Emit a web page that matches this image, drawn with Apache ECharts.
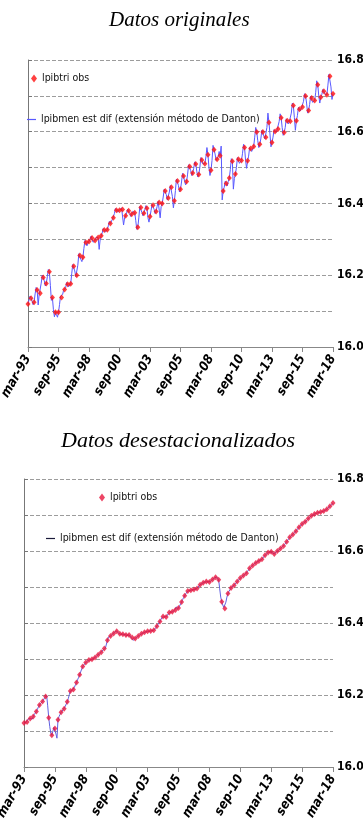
<!DOCTYPE html>
<html>
<head>
<meta charset="utf-8">
<script src="https://cdn.jsdelivr.net/npm/echarts@6/dist/echarts.min.js"></script>
<style>
  html, body { margin: 0; padding: 0; background: #fff; }
  #top { width: 363px; height: 414px; }
  #bottom { width: 363px; height: 415px; }
</style>
</head>
<body>
<div id="top"></div>
<div id="bottom"></div>
<script>
// etiquetas del eje x (cada 30 meses, desde mar-93)
var xTickLabels = ['mar-93','sep-95','mar-98','sep-00','mar-03','sep-05','mar-08','sep-10','mar-13','sep-15','mar-18'];
var obsName = 'lpibtri obs';
var lineName = 'lpibmen est dif (extensión método de Danton)';

// datos originales, trimestral (mar, jun, sep, dic)
var origQ = [
  16.120, 16.136, 16.125, 16.159,
  16.150, 16.194, 16.177, 16.210,
  16.138, 16.097, 16.097, 16.138,
  16.160, 16.175, 16.176, 16.225,
  16.200, 16.255, 16.250, 16.291,
  16.294, 16.304, 16.297, 16.305,
  16.310, 16.326, 16.327, 16.344,
  16.360, 16.381, 16.381, 16.383,
  16.366, 16.380, 16.370, 16.374,
  16.334, 16.389, 16.373, 16.387,
  16.364, 16.395, 16.378, 16.403,
  16.400, 16.435, 16.415, 16.445,
  16.408, 16.463, 16.440, 16.477,
  16.461, 16.503, 16.485, 16.510,
  16.481, 16.521, 16.511, 16.536,
  16.493, 16.550, 16.523, 16.533,
  16.435, 16.456, 16.471, 16.518,
  16.482, 16.523, 16.520, 16.556,
  16.519, 16.553, 16.559, 16.599,
  16.565, 16.599, 16.585, 16.626,
  16.570, 16.601, 16.608, 16.639,
  16.598, 16.631, 16.629, 16.673,
  16.631, 16.663, 16.669, 16.700,
  16.659, 16.694, 16.687, 16.731,
  16.696, 16.713, 16.703, 16.755,
  16.706
];

// datos originales, mensual (mar-93 ... mar-18)
var origM = [
  16.120,16.131,16.142, 16.136,16.128,16.118, 16.125,16.148,16.166, 16.159,16.117,16.146,
  16.150,16.178,16.200, 16.194,16.185,16.170, 16.177,16.196,16.216, 16.210,16.172,16.130,
  16.138,16.104,16.084, 16.097,16.090,16.083, 16.097,16.118,16.142, 16.138,16.146,16.158,
  16.160,16.165,16.180, 16.175,16.168,16.172, 16.176,16.204,16.230, 16.225,16.212,16.196,
  16.200,16.228,16.260, 16.255,16.244,16.238, 16.250,16.275,16.297, 16.291,16.282,16.290,
  16.294,16.300,16.309, 16.304,16.292,16.290, 16.297,16.306,16.311, 16.305,16.272,16.300,
  16.310,16.318,16.330, 16.326,16.320,16.318, 16.327,16.338,16.350, 16.344,16.342,16.356,
  16.360,16.372,16.386, 16.381,16.376,16.372, 16.381,16.386,16.388, 16.383,16.340,16.360,
  16.366,16.374,16.384, 16.380,16.372,16.364, 16.370,16.378,16.382, 16.374,16.352,16.328,
  16.334,16.360,16.392, 16.389,16.375,16.366, 16.373,16.384,16.394, 16.387,16.360,16.348,
  16.364,16.380,16.398, 16.395,16.384,16.372, 16.378,16.392,16.406, 16.403,16.360,16.392,
  16.400,16.418,16.440, 16.435,16.425,16.410, 16.415,16.432,16.450, 16.445,16.420,16.388,
  16.408,16.436,16.468, 16.463,16.450,16.432, 16.440,16.460,16.484, 16.477,16.462,16.452,
  16.461,16.482,16.508, 16.503,16.492,16.478, 16.485,16.498,16.516, 16.510,16.490,16.474,
  16.481,16.500,16.528, 16.521,16.510,16.506, 16.511,16.530,16.556, 16.536,16.500,16.478,
  16.493,16.520,16.562, 16.550,16.538,16.520, 16.523,16.530,16.545, 16.533,16.560,16.410,
  16.435,16.445,16.462, 16.456,16.449,16.462, 16.471,16.495,16.525, 16.518,16.440,16.470,
  16.482,16.500,16.528, 16.523,16.512,16.515, 16.520,16.540,16.565, 16.556,16.520,16.498,
  16.519,16.532,16.556, 16.553,16.545,16.552, 16.559,16.585,16.612, 16.599,16.575,16.556,
  16.565,16.580,16.604, 16.599,16.588,16.580, 16.585,16.612,16.652, 16.626,16.594,16.558,
  16.570,16.585,16.606, 16.601,16.598,16.606, 16.608,16.628,16.650, 16.639,16.612,16.590,
  16.598,16.612,16.636, 16.631,16.622,16.628, 16.629,16.652,16.680, 16.673,16.640,16.604,
  16.631,16.645,16.668, 16.663,16.658,16.666, 16.669,16.685,16.706, 16.700,16.680,16.652,
  16.659,16.676,16.699, 16.694,16.682,16.680, 16.687,16.710,16.742, 16.731,16.700,16.680,
  16.696,16.704,16.718, 16.713,16.705,16.700, 16.703,16.730,16.760, 16.755,16.725,16.690,
  16.706
];

// datos desestacionalizados, trimestral
var saQ = [
  16.122, 16.125, 16.135, 16.140,
  16.154, 16.172, 16.182, 16.196,
  16.137, 16.088, 16.107, 16.131,
  16.152, 16.162, 16.181, 16.211,
  16.215, 16.235, 16.256, 16.279,
  16.290, 16.297, 16.299, 16.304,
  16.312, 16.319, 16.329, 16.352,
  16.364, 16.371, 16.377, 16.370,
  16.369, 16.367, 16.367, 16.360,
  16.357, 16.364, 16.370, 16.374,
  16.377, 16.378, 16.380, 16.391,
  16.404, 16.418, 16.417, 16.429,
  16.431, 16.436, 16.442, 16.458,
  16.476, 16.489, 16.491, 16.493,
  16.496, 16.506, 16.512, 16.515,
  16.514, 16.521, 16.527, 16.520,
  16.459, 16.440, 16.482, 16.497,
  16.505, 16.515, 16.525, 16.532,
  16.538, 16.552, 16.560, 16.567,
  16.572, 16.577, 16.588, 16.596,
  16.598, 16.592, 16.600, 16.607,
  16.614, 16.626, 16.638, 16.646,
  16.655, 16.666, 16.675, 16.681,
  16.690, 16.698, 16.703, 16.706,
  16.708, 16.711, 16.716, 16.724,
  16.733
];

// datos desestacionalizados, mensual
var saM = [
  16.122,16.123,16.124, 16.125,16.133,16.136, 16.135,16.134,16.133, 16.140,16.146,16.150,
  16.154,16.160,16.167, 16.172,16.176,16.179, 16.182,16.187,16.192, 16.196,16.199,16.170,
  16.137,16.112,16.094, 16.088,16.086,16.110, 16.107,16.092,16.080, 16.131,16.140,16.146,
  16.152,16.156,16.159, 16.162,16.168,16.175, 16.181,16.190,16.201, 16.211,16.214,16.214,
  16.215,16.222,16.229, 16.235,16.242,16.249, 16.256,16.264,16.272, 16.279,16.284,16.287,
  16.290,16.293,16.295, 16.297,16.298,16.298, 16.299,16.301,16.302, 16.304,16.307,16.310,
  16.312,16.314,16.317, 16.319,16.322,16.326, 16.329,16.330,16.334, 16.352,16.361,16.363,
  16.364,16.367,16.369, 16.371,16.375,16.380, 16.377,16.374,16.372, 16.370,16.368,16.371,
  16.369,16.366,16.368, 16.367,16.365,16.368, 16.367,16.362,16.360, 16.360,16.352,16.355,
  16.357,16.360,16.362, 16.364,16.366,16.368, 16.370,16.372,16.373, 16.374,16.375,16.376,
  16.377,16.378,16.377, 16.378,16.379,16.379, 16.380,16.383,16.387, 16.391,16.396,16.400,
  16.404,16.410,16.416, 16.418,16.417,16.416, 16.417,16.420,16.425, 16.429,16.430,16.431,
  16.431,16.433,16.435, 16.436,16.445,16.438, 16.442,16.447,16.452, 16.458,16.465,16.471,
  16.476,16.481,16.486, 16.489,16.490,16.490, 16.491,16.492,16.492, 16.493,16.494,16.495,
  16.496,16.500,16.503, 16.506,16.508,16.510, 16.512,16.513,16.514, 16.515,16.515,16.514,
  16.514,16.516,16.519, 16.521,16.523,16.525, 16.527,16.528,16.524, 16.520,16.495,16.472,
  16.459,16.450,16.443, 16.440,16.458,16.472, 16.482,16.488,16.493, 16.497,16.500,16.503,
  16.505,16.508,16.512, 16.515,16.518,16.522, 16.525,16.527,16.530, 16.532,16.534,16.536,
  16.538,16.543,16.548, 16.552,16.555,16.558, 16.560,16.563,16.565, 16.567,16.569,16.571,
  16.572,16.574,16.575, 16.577,16.581,16.585, 16.588,16.591,16.594, 16.596,16.597,16.598,
  16.598,16.595,16.593, 16.592,16.595,16.598, 16.600,16.602,16.605, 16.607,16.609,16.612,
  16.614,16.618,16.622, 16.626,16.630,16.634, 16.638,16.641,16.644, 16.646,16.649,16.652,
  16.655,16.659,16.663, 16.666,16.669,16.672, 16.675,16.677,16.679, 16.681,16.684,16.687,
  16.690,16.693,16.696, 16.698,16.700,16.701, 16.703,16.704,16.705, 16.706,16.707,16.707,
  16.708,16.709,16.710, 16.711,16.713,16.714, 16.716,16.719,16.721, 16.724,16.727,16.730,
  16.733
];

var narrow = '"Liberation Sans Narrow", "DejaVu Sans Condensed", "Liberation Sans", sans-serif';

function monthly(arr) { return arr.map(function (v, m) { return [m, v]; }); }
function quarterly(arr) { return arr.map(function (v, i) { return [i * 3, v]; }); }

function buildOption(c) {
    return {
        animation: false,
        title: {
            text: c.title,
            left: c.titleLeft,
            top: c.titleTop,
            textStyle: {
                fontFamily: '"Liberation Serif", serif',
                fontStyle: 'italic',
                fontWeight: 'normal',
                fontSize: c.titleSize,
                color: '#000'
            }
        },
        legend: [
            {
                data: [{ name: obsName, icon: 'diamond', itemStyle: { color: c.obsColor } }],
                left: c.leg1[0], top: c.leg1[1], padding: 0,
                itemWidth: 6, itemHeight: 8,
                textStyle: { fontFamily: narrow, fontSize: 10.5, color: '#111' }
            },
            {
                data: [{ name: lineName, icon: 'rect', itemStyle: { color: c.legLineColor } }],
                left: c.leg2[0], top: c.leg2[1], padding: 0,
                itemWidth: 9, itemHeight: 1.2,
                textStyle: { fontFamily: narrow, fontSize: 10.5, color: '#111' }
            }
        ],
        grid: { left: c.left, right: 30, top: c.top, height: c.height, outerBoundsMode: 'none' },
        xAxis: {
            type: 'value',
            min: 0, max: 300, interval: 30,
            axisLine: { lineStyle: { color: '#888' } },
            axisTick: { length: 5, lineStyle: { color: '#888' } },
            splitLine: { show: false },
            axisLabel: {
                rotate: 60,
                margin: 9,
                color: '#000',
                fontFamily: narrow,
                fontStyle: 'italic',
                fontWeight: 'bold',
                fontSize: 13,
                formatter: function (v) { return xTickLabels[Math.round(v / 30)]; }
            }
        },
        yAxis: {
            type: 'value',
            position: 'right',
            min: 16, max: 16.8, interval: 0.1,
            axisLine: { show: true, lineStyle: { color: '#777' } },
            axisTick: { show: true, length: 4, lineStyle: { color: '#777' } },
            splitLine: { lineStyle: { type: [4, 2], color: '#9c9c9c' } },
            axisLabel: {
                margin: 4,
                color: '#000',
                fontFamily: narrow,
                fontWeight: 'bold',
                fontSize: 12,
                formatter: function (v) {
                    return Math.round(v * 10) % 2 === 0 ? v.toFixed(1) : '';
                }
            }
        },
        series: [
            {
                name: lineName,
                type: 'line',
                data: monthly(c.monthly),
                symbol: 'none',
                lineStyle: { color: c.lineColor, width: 1 },
                itemStyle: { color: c.lineColor },
                z: 2
            },
            {
                name: obsName,
                type: 'scatter',
                data: quarterly(c.quarterly),
                symbol: 'diamond',
                symbolSize: [5, 6],
                itemStyle: { color: c.obsColor },
                z: 3
            }
        ]
    };
}

var topChart = echarts.init(document.getElementById('top'));
topChart.setOption(buildOption({
    title: 'Datos originales', titleLeft: 104, titleTop: 5, titleSize: 21,
    leg1: [31, 73], leg2: [27, 114],
    left: 28, top: 60, height: 287,
    monthly: origM, quarterly: origQ,
    lineColor: '#5858ff', legLineColor: '#5858ff', obsColor: '#ff1010'
}));

var bottomChart = echarts.init(document.getElementById('bottom'));
bottomChart.setOption(buildOption({
    title: 'Datos desestacionalizados', titleLeft: 56, titleTop: 11, titleSize: 22,
    leg1: [99, 78], leg2: [46, 119],
    left: 24, top: 65, height: 288,
    monthly: saM, quarterly: saQ,
    lineColor: '#6060e0', legLineColor: '#1a1a3a', obsColor: '#e8163f'
}));
</script>
</body>
</html>
